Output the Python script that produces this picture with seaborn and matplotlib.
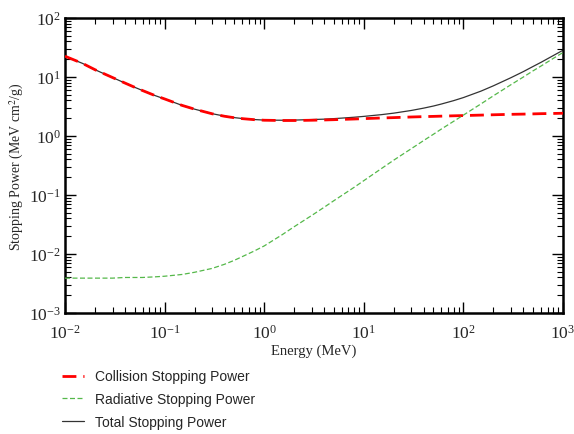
import matplotlib
matplotlib.use("Agg")
import matplotlib.pyplot as plt
import seaborn as sns
import pandas as pd
from matplotlib.font_manager import FontProperties
from matplotlib.ticker import LogLocator, LogFormatterSciNotation, NullFormatter

energy = [0.01, 0.015, 0.02, 0.03, 0.04, 0.05, 0.06, 0.08, 0.1, 0.15, 0.2, 0.3, 0.4,
          0.5, 0.6, 0.8, 1, 1.5, 2, 3, 4, 5, 6, 8, 10, 15, 20, 30, 40, 50, 60, 80,
          100, 150, 200, 300, 400, 500, 600, 800, 1000]
collision = [22.5, 17.0, 13.3, 9.8, 7.9, 6.7, 5.9, 4.85, 4.25, 3.3, 2.85, 2.38, 2.16,
             2.04, 1.97, 1.89, 1.85, 1.83, 1.83, 1.85, 1.87, 1.89, 1.91, 1.94, 1.97,
             2.02, 2.05, 2.10, 2.13, 2.15, 2.17, 2.20, 2.22, 2.26, 2.29, 2.33, 2.35,
             2.37, 2.39, 2.41, 2.43]
radiative = [0.0039, 0.0039, 0.0039, 0.0039, 0.0040, 0.0040, 0.0040, 0.0041, 0.0042,
             0.0045, 0.0049, 0.0057, 0.0067, 0.0078, 0.0090, 0.0113, 0.0137, 0.021,
             0.029, 0.045, 0.062, 0.080, 0.098, 0.135, 0.175, 0.28, 0.39, 0.61, 0.84,
             1.07, 1.31, 1.78, 2.26, 3.5, 4.8, 7.4, 10.0, 12.7, 15.3, 20.7, 26.0]
total = [22.5, 17.0, 13.3, 9.8, 7.9, 6.7, 5.9, 4.85, 4.25, 3.3, 2.85, 2.39, 2.17,
         2.05, 1.98, 1.90, 1.86, 1.85, 1.86, 1.90, 1.93, 1.97, 2.01, 2.08, 2.15,
         2.30, 2.44, 2.71, 2.97, 3.22, 3.48, 3.98, 4.48, 5.76, 7.09, 9.73, 12.35,
         15.07, 17.69, 23.11, 28.43]

series_names = ["Collision Stopping Power", "Radiative Stopping Power", "Total Stopping Power"]

sns.set_style("ticks")
plt.rcParams['font.family'] = ['Liberation Serif', 'DejaVu Serif']
plt.rcParams['mathtext.fontset'] = 'stix'

df = pd.DataFrame({"Energy": energy, "Collision": collision,
                   "Radiative": radiative, "Total": total})

fig = plt.figure(figsize=(5.74, 4.35), dpi=100)
ax = fig.add_axes([65/574, 1 - 314/435, (563-65)/574, (314-19)/435])

sns.lineplot(data=df, x="Energy", y="Total", ax=ax, color="#333333", lw=0.9,
             label=series_names[2], zorder=2)
sns.lineplot(data=df, x="Energy", y="Collision", ax=ax, color="#ff0000", lw=2.0,
             label=series_names[0], zorder=3)
sns.lineplot(data=df, x="Energy", y="Radiative", ax=ax, color="#55b84a", lw=0.9,
             label=series_names[1], zorder=3)
lines = ax.get_lines()
lines[1].set_dashes([5, 2.5])
lines[2].set_dashes([4, 2])

ax.set_xscale("log")
ax.set_yscale("log")
ax.set_xlim(1e-2, 1e3)
ax.set_ylim(1e-3, 1e2)

ax.xaxis.set_major_locator(LogLocator(base=10, numticks=10))
ax.yaxis.set_major_locator(LogLocator(base=10, numticks=10))
ax.xaxis.set_minor_locator(LogLocator(base=10, subs=range(2, 10), numticks=20))
ax.yaxis.set_minor_locator(LogLocator(base=10, subs=range(2, 10), numticks=20))
ax.xaxis.set_major_formatter(LogFormatterSciNotation())
ax.yaxis.set_major_formatter(LogFormatterSciNotation())
ax.xaxis.set_minor_formatter(NullFormatter())
ax.yaxis.set_minor_formatter(NullFormatter())

ax.tick_params(which="both", direction="in", top=True, right=True, color="black")
ax.tick_params(which="major", length=8, width=1.0, labelsize=12.5)
ax.tick_params(axis="x", which="major", pad=8)
ax.tick_params(axis="y", which="major", pad=3)
ax.tick_params(which="minor", length=4, width=0.8)
for s in ax.spines.values():
    s.set_linewidth(1.8)
    s.set_color("black")

ax.set_xlabel("Energy (MeV)", fontsize=10.5, labelpad=1)
ax.set_ylabel(r"Stopping Power (MeV cm$^{2}$/g)", fontsize=10, labelpad=2)

ax.get_legend().remove()
handles = [lines[1], lines[2], lines[0]]
leg = fig.legend(handles, series_names, loc="upper left",
                 bbox_to_anchor=(49/574, 1 - 358/435), frameon=False,
                 prop=FontProperties(family=["Liberation Sans", "DejaVu Sans"], size=10),
                 handlelength=1.6, handletextpad=0.8, labelspacing=0.62)

fig.savefig("out.png", dpi=100)
